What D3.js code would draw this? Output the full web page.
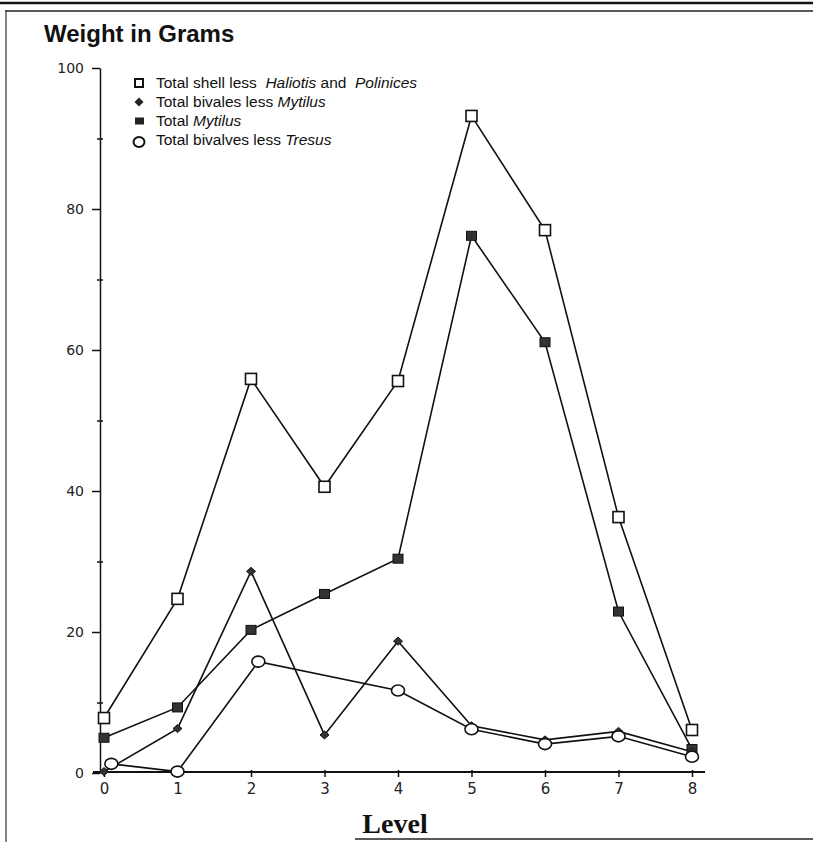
<!DOCTYPE html>
<html>
<head>
<meta charset="utf-8">
<script src="https://cdn.jsdelivr.net/npm/d3@7"></script>
<style>
  html, body { margin: 0; padding: 0; background: #fff; }
  svg { display: block; }
</style>
</head>
<body>
<svg id="chart" width="813" height="842"></svg>
<script>
// ---- data ----
const levels = [0, 1, 2, 3, 4, 5, 6, 7, 8];
const shellLessHaliotisPolinices = [7.8, 24.7, 55.9, 40.6, 55.6, 93.2, 77.0, 36.3, 6.1];
const bivalesLessMytilus = [0.2, 6.3, 28.6, 5.4, 18.7, 6.7, 4.7, 5.9, 3.0];
const totalMytilus = [5.0, 9.3, 20.3, 25.4, 30.4, 76.2, 61.1, 22.9, 3.4];
const bivalvesLessTresusLevels = [0.1, 1, 2.1, 4, 5, 6, 7, 8];
const bivalvesLessTresus = [1.3, 0.2, 15.8, 11.7, 6.2, 4.1, 5.2, 2.3];
const yTicks = [0, 20, 40, 60, 80, 100];
const yMinorTicks = [10, 30, 50, 70, 90];
const xTicks = [0, 1, 2, 3, 4, 5, 6, 7, 8];
const legendItems = [
  { key: "square", parts: [["Total shell less  ", false], ["Haliotis", true], [" and  ", false], ["Polinices", true]] },
  { key: "diamond", parts: [["Total bivales less ", false], ["Mytilus", true]] },
  { key: "filled", parts: [["Total ", false], ["Mytilus", true]] },
  { key: "circle", parts: [["Total bivalves less ", false], ["Tresus", true]] }
];

const svg = d3.select("#chart");
const x = d3.scaleLinear().domain([0, 8]).range([104, 692]);
const y = d3.scaleLinear().domain([0, 100]).range([773, 68]);

// frame
svg.append("line").attr("x1", 0).attr("x2", 813).attr("y1", 3).attr("y2", 3).attr("stroke", "#111").attr("stroke-width", 2.5);
svg.append("line").attr("x1", 5).attr("x2", 813).attr("y1", 11).attr("y2", 11).attr("stroke", "#222").attr("stroke-width", 1.5);
svg.append("line").attr("x1", 6).attr("x2", 6).attr("y1", 11).attr("y2", 842).attr("stroke", "#333").attr("stroke-width", 1.2);
svg.append("line").attr("x1", 355).attr("x2", 813).attr("y1", 839).attr("y2", 839).attr("stroke", "#222").attr("stroke-width", 1.5);

// title
svg.append("text").attr("x", 44).attr("y", 42)
  .attr("font-family", "Liberation Sans, Arial, sans-serif").attr("font-weight", "bold")
  .attr("font-size", 24).attr("fill", "#111").text("Weight in Grams");

// y axis
const yAxis = d3.axisLeft(y).tickValues(yTicks).tickSize(8).tickSizeOuter(0).tickPadding(8);
const gy = svg.append("g").attr("transform", "translate(100,0)").call(yAxis);
gy.select(".domain").attr("stroke", "#111").attr("stroke-width", 1.5);
gy.selectAll(".tick line").attr("stroke", "#111").attr("stroke-width", 1.5);
gy.selectAll(".tick text").attr("font-family", "DejaVu Sans, sans-serif").attr("font-size", 14).attr("fill", "#222");
const yMinor = d3.axisLeft(y).tickValues(yMinorTicks).tickSize(4).tickSizeOuter(0).tickFormat("");
const gym = svg.append("g").attr("transform", "translate(103,0)").call(yMinor);
gym.select(".domain").remove();
gym.selectAll(".tick line").attr("x1", 0).attr("x2", -6).attr("stroke", "#111").attr("stroke-width", 1.5);

// x axis
svg.append("line").attr("x1", 93).attr("x2", 705).attr("y1", y(0) - 1).attr("y2", y(0) - 1).attr("stroke", "#111").attr("stroke-width", 2);
const xAxis = d3.axisBottom(x).tickValues(xTicks).tickSize(5).tickSizeOuter(0).tickPadding(6);
const gx = svg.append("g").attr("transform", `translate(0,${y(0) - 1})`).call(xAxis);
gx.select(".domain").remove();
gx.selectAll(".tick line").attr("y1", -2).attr("stroke", "#111").attr("stroke-width", 1.5);
gx.selectAll(".tick text").attr("font-family", "DejaVu Sans, sans-serif").attr("font-size", 15).attr("fill", "#222");

// x title
svg.append("text").attr("x", 395).attr("y", 833).attr("text-anchor", "middle")
  .attr("font-family", "Liberation Serif, Times New Roman, serif").attr("font-weight", "bold")
  .attr("font-size", 28).attr("fill", "#111").text("Level");

// series
const series = [
  { key: "square", xs: levels, ys: shellLessHaliotisPolinices },
  { key: "filled", xs: levels, ys: totalMytilus },
  { key: "diamond", xs: levels, ys: bivalesLessMytilus },
  { key: "circle", xs: bivalvesLessTresusLevels, ys: bivalvesLessTresus }
];
const line = d3.line().x(d => x(d[0])).y(d => y(d[1]));
series.forEach(s => {
  const pts = s.xs.map((v, i) => [v, s.ys[i]]);
  svg.append("path").datum(pts).attr("d", line).attr("fill", "none")
    .attr("stroke", "#111").attr("stroke-width", 1.6);
});

function drawMarker(g, key, cx, cy) {
  if (key === "square") {
    g.append("rect").attr("x", cx - 5.5).attr("y", cy - 5.5).attr("width", 11).attr("height", 11)
      .attr("fill", "#fff").attr("stroke", "#111").attr("stroke-width", 1.6);
  } else if (key === "filled") {
    g.append("rect").attr("x", cx - 5).attr("y", cy - 4.5).attr("width", 10).attr("height", 9)
      .attr("fill", "#333").attr("stroke", "#111").attr("stroke-width", 1);
  } else if (key === "diamond") {
    g.append("path").attr("d", `M${cx},${cy - 4}L${cx + 4.5},${cy}L${cx},${cy + 4}L${cx - 4.5},${cy}Z`)
      .attr("fill", "#333").attr("stroke", "#111").attr("stroke-width", 1);
  } else if (key === "circle") {
    g.append("ellipse").attr("cx", cx).attr("cy", cy).attr("rx", 6.5).attr("ry", 5.5)
      .attr("fill", "#fff").attr("stroke", "#111").attr("stroke-width", 1.6);
  }
}
const gm = svg.append("g");
series.forEach(s => {
  s.xs.forEach((v, i) => drawMarker(gm, s.key, x(v), y(s.ys[i])));
});

// legend
const lg = svg.append("g");
const legendY0 = 83, legendDy = 19;
legendItems.forEach((it, i) => {
  const cy = legendY0 + i * legendDy;
  const mg = lg.append("g");
  if (it.key === "square") {
    mg.append("rect").attr("x", 135).attr("y", cy - 4).attr("width", 8).attr("height", 8)
      .attr("fill", "#fff").attr("stroke", "#111").attr("stroke-width", 2);
  } else if (it.key === "filled") {
    mg.append("rect").attr("x", 135).attr("y", cy - 3.5).attr("width", 9).attr("height", 7).attr("fill", "#222");
  } else if (it.key === "diamond") {
    mg.append("path").attr("d", `M139,${cy - 4.5}L143.5,${cy}L139,${cy + 4.5}L134.5,${cy}Z`).attr("fill", "#222");
  } else {
    mg.append("ellipse").attr("cx", 139).attr("cy", cy + 2).attr("rx", 5.5).attr("ry", 5)
      .attr("fill", "#fff").attr("stroke", "#111").attr("stroke-width", 2);
  }
  const t = lg.append("text").attr("x", 156).attr("y", cy + 5)
    .attr("font-family", "Liberation Sans, Arial, sans-serif").attr("font-size", 15.5).attr("fill", "#111")
    .attr("xml:space", "preserve").style("white-space", "pre");
  it.parts.forEach(p => {
    t.append("tspan").attr("font-style", p[1] ? "italic" : "normal").text(p[0]);
  });
});
</script>
</body>
</html>
